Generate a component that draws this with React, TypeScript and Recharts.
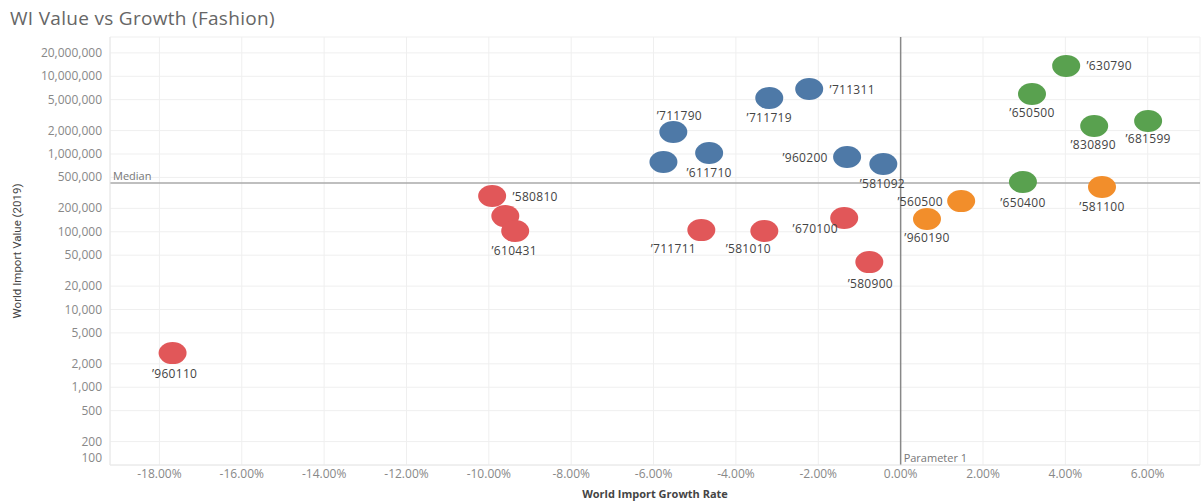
import React from 'react';
import { ScatterChart, Scatter, XAxis, YAxis, CartesianGrid, ReferenceLine } from 'recharts';

// Growth rate (%) vs world import value, one set of arrays per colour group
const redCodes = ['960110', '580810', '', '610431', '711711', '581010', '670100', '580900'];
const redGrowth = [-17.68, -9.92, -9.6, -9.36, -4.84, -3.31, -1.37, -0.76];
const redValue = [2750, 288000, 159000, 102000, 105000, 102000, 150000, 40700];

const blueCodes = ['711311', '711719', '711790', '', '611710', '960200', '581092'];
const blueGrowth = [-2.22, -3.19, -5.52, -5.76, -4.65, -1.3, -0.42];
const blueValue = [6870000, 5260000, 1920000, 789000, 1030000, 915000, 743000];

const orangeCodes = ['560500', '960190', '581100'];
const orangeGrowth = [1.47, 0.64, 4.89];
const orangeValue = [248000, 146000, 376000];

const greenCodes = ['650400', '630790', '650500', '830890', '681599'];
const greenGrowth = [2.97, 4.02, 3.19, 4.7, 6.01];
const greenValue = [436000, 13600000, 5920000, 2290000, 2660000];

const xTicks = [-18, -16, -14, -12, -10, -8, -6, -4, -2, 0, 2, 4, 6];
const yTicks = [100, 200, 500, 1000, 2000, 5000, 10000, 20000, 50000, 100000, 200000, 500000,
  1000000, 2000000, 5000000, 10000000, 20000000];

const medianValue = 425000;
const parameterGrowth = 0;

// label offset from the mark centre [dx, dy]
const labelOffset: Record<string, [number, number]> = {
  '960110': [2, 20], '580810': [43, 0], '610431': [-1, 19], '711711': [-28, 18],
  '581010': [-16, 17], '670100': [-29, 10], '580900': [1, 21],
  '711311': [43, 1], '711719': [0, 20], '711790': [6, -16], '611710': [0, 19],
  '960200': [-42, 0], '581092': [-1, 19],
  '560500': [-41, 0], '960190': [0, 19], '581100': [0, 19],
  '650400': [0, 20], '630790': [43, 0], '650500': [0, 19], '830890': [-1, 18], '681599': [0, 18],
};

const build = (codes: string[], growth: number[], value: number[]) =>
  codes.map((code, i) => ({ code, growth: growth[i], value: value[i] }));

const groups = [
  { name: 'red', color: '#e15759', data: build(redCodes, redGrowth, redValue) },
  { name: 'blue', color: '#4e79a7', data: build(blueCodes, blueGrowth, blueValue) },
  { name: 'orange', color: '#f28e2b', data: build(orangeCodes, orangeGrowth, orangeValue) },
  { name: 'green', color: '#59a14f', data: build(greenCodes, greenGrowth, greenValue) },
];

const FONT = '"Open Sans", Arial, sans-serif';

const Dot = (color: string) => (props: any) => {
  const { cx, cy, payload } = props;
  const off = labelOffset[payload.code] || [0, 0];
  return (
    <g>
      <ellipse cx={cx} cy={cy} rx={14} ry={11} fill={color} />
      {payload.code && (
        <text x={cx + off[0]} y={cy + off[1]} textAnchor="middle" dominantBaseline="central"
          fontSize={12} fill="#444" fontFamily={FONT} letterSpacing={0.3}>
          {'\u2019' + payload.code}
        </text>
      )}
    </g>
  );
};

const YTick = (props: any) => {
  const { x, y, payload } = props;
  const ty = payload.value === 100 ? y - 7 : y;
  return (
    <text x={x} y={ty} dy={4} textAnchor="end" fontSize={12} fill="#888" fontFamily={FONT}>
      {payload.value.toLocaleString('en-US')}
    </text>
  );
};

const YTitle = (props: any) => {
  const vb = props.viewBox || { x: 0, y: 37, width: 110, height: 428 };
  const x = vb.x + 17;
  const y = vb.y + vb.height / 2;
  return (
    <text x={x} y={y} transform={`rotate(-90, ${x}, ${y})`} textAnchor="middle" dominantBaseline="central"
      fontSize={11.5} fill="#444" fontFamily={'"Liberation Sans Narrow", Roboto, Arial, sans-serif'}>
      World Import Value (2019)
    </text>
  );
};

export default function App() {
  return (
    <div style={{ position: 'absolute', left: 0, top: 0, width: 1202, height: 502, background: '#fff' }}>
      <div style={{ position: 'absolute', left: 10, top: 5, fontFamily: FONT, fontSize: 19, color: '#666', letterSpacing: 0.3 }}>
        WI Value vs Growth (Fashion)
      </div>
      <ScatterChart width={1202} height={502} margin={{ top: 37, right: 2, bottom: 0, left: 0 }}>
        <CartesianGrid stroke="#efefef" strokeWidth={1} />
        <XAxis type="number" dataKey="growth" domain={[-19.2, 7.27]} ticks={xTicks} allowDataOverflow
          height={37} tickLine={false} tickSize={4} tickMargin={0} axisLine={{ stroke: '#e8e8e8' }}
          tickFormatter={(v: number) => v.toFixed(2) + '%'}
          tick={{ fontSize: 12, fill: '#888', fontFamily: FONT }}
          label={{ value: 'World Import Growth Rate', position: 'insideBottom', offset: 4, fontSize: 11, fontWeight: 700, fill: '#444', fontFamily: FONT }} />
        <YAxis type="number" dataKey="value" scale="log" domain={[100, 32000000]} ticks={yTicks} allowDataOverflow
          width={110} tickLine={false} axisLine={{ stroke: '#e8e8e8' }} tick={<YTick />} label={<YTitle />} />
        <ReferenceLine y={medianValue} stroke="#aaa" strokeWidth={1.5}
          label={{ value: 'Median', position: 'insideBottomLeft', offset: 3, fontSize: 11, fill: '#777', fontFamily: FONT }} />
        <ReferenceLine x={parameterGrowth} stroke="#888" strokeWidth={1.5}
          label={{ value: 'Parameter 1', position: 'insideBottomLeft', offset: 3, fontSize: 11, fill: '#777', fontFamily: FONT }} />
        {groups.map((g) => (
          <Scatter key={g.name} data={g.data} fill={g.color} shape={Dot(g.color)} isAnimationActive={false} />
        ))}
      </ScatterChart>
    </div>
  );
}
